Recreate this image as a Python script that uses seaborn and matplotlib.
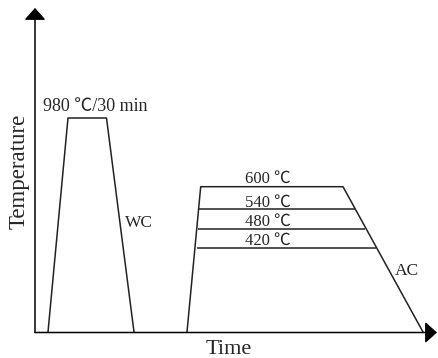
import numpy as np
import pandas as pd
import matplotlib
matplotlib.use("Agg")
import matplotlib.pyplot as plt
import seaborn as sns

# schematic heat-treatment profile (arbitrary units, not to scale)
quench_time  = [13, 33, 71.5, 99]
quench_level = [0, 214, 214, 0]

temper_time  = [152, 165.7, 308, 388]
temper_level = [0, 145.3, 145.3, 0]

# lower tempering plateaus
temper_labels = ["540 ℃", "480 ℃", "420 ℃"]
plateau_level = [122.7, 103, 84.3]
plateau_start = [164.3, 163.2, 162]
plateau_end   = [320, 330, 341]

all_labels = ["600 ℃"] + temper_labels
label_base = [149.3, 125.3, 106.3, 87.7]

sns.set_theme(style="white")
plt.rcParams["font.family"] = ["Liberation Serif", "Noto Sans CJK SC", "DejaVu Sans"]

fig = plt.figure(figsize=(4.38, 3.58), dpi=100)
ax = fig.add_axes([0, 0, 1, 1])
ax.set_xlim(-35, 403)
ax.set_ylim(-26, 332)
ax.axis("off")

lw = 1.1
q = pd.DataFrame({"time": quench_time, "level": quench_level})
t = pd.DataFrame({"time": temper_time, "level": temper_level})
sns.lineplot(data=q, x="time", y="level", sort=False, estimator=None,
             color="#222222", lw=lw, ax=ax)
sns.lineplot(data=t, x="time", y="level", sort=False, estimator=None,
             color="#222222", lw=lw, ax=ax)
ax.hlines(plateau_level, plateau_start, plateau_end, color="#222222", lw=lw)

# axes with arrow heads
arrow = dict(arrowstyle="-|>,head_length=0.4,head_width=0.36", mutation_scale=18,
             color="black", lw=1.1, shrinkA=0, shrinkB=0)
ax.annotate("", xy=(0, 324), xytext=(0, -0.5), arrowprops=arrow)
ax.annotate("", xy=(402, -0.5), xytext=(0, -0.5), arrowprops=arrow)

# annotations
ax.text(8, 221.3, "980 ℃/30 min", fontsize=13, ha="left", va="baseline")
for lab, yb in zip(all_labels, label_base):
    ax.text(210, yb, lab, fontsize=12, ha="left", va="baseline")
ax.text(90, 105, "WC", fontsize=12.5, ha="left", va="baseline")
ax.text(360, 57, "AC", fontsize=12.5, ha="left", va="baseline")

ax.text(193.5, -21.5, "Time", fontsize=16, ha="center", va="baseline")
ax.text(-16, 161, "Temperature", fontsize=16.5, rotation=90, ha="center", va="center")

fig.savefig("out.png", dpi=100)
